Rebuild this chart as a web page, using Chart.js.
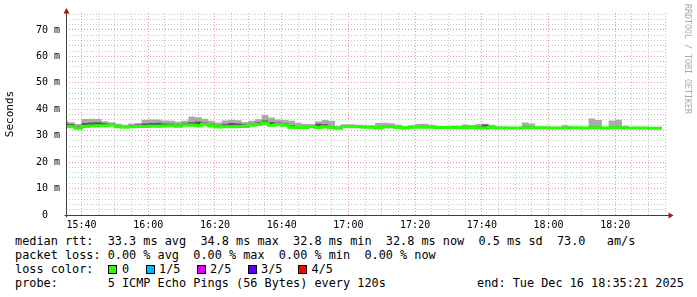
<!DOCTYPE html>
<html lang="en">
<head>
  <title>median rtt</title>
  <meta charset="utf-8">
  <script src="https://cdn.jsdelivr.net/npm/chart.js@4.4.1/dist/chart.umd.min.js"></script>
  <style>
    body {
      margin: 0;
      background-color: #fff;
      font-family: "DejaVu Sans Mono", monospace;
    }
    #wrap { position: relative; width: 697px; height: 297px; overflow: hidden; }
    #myChart { position: absolute; left: 0; top: 0; }
    .txt { position: absolute; font-size: 11.85px; line-height: 14px; color: #000; white-space: pre; }
    .box { position: absolute; width: 7px; height: 7px; border: 1px solid #000; }
    .mark {
      position: absolute; left: 682px; top: 4px;
      writing-mode: vertical-rl; font-size: 8.3px; line-height: 12px;
      color: #aaa; white-space: pre;
    }
  </style>
</head>
<body>
  <div id="wrap">
    <canvas id="myChart" width="697" height="232"></canvas>
    <div class="mark">RRDTOOL / TOBI OETIKER</div>

    <div class="txt" style="left:15px; top:234px;">median rtt:  33.3 ms avg  34.8 ms max  32.8 ms min  32.8 ms now  0.5 ms sd  73.0   am/s</div>
    <div class="txt" style="left:15px; top:248px;">packet loss: 0.00 % avg  0.00 % max  0.00 % min  0.00 % now</div>
    <div class="txt" style="left:15px; top:262px;">loss color:</div>
    <div id="lossRow"></div>
    <div class="txt" style="left:15px; top:276px;">probe:       5 ICMP Echo Pings (56 Bytes) every 120s</div>
    <div class="txt" style="left:477px; top:276px;">end: Tue Dec 16 18:35:21 2025</div>
  </div>

  <script>
    // 2 minute steps, first one starts 15:34
    const stepStart = 15 * 60 + 34;
    const stepMinutes = 2;
    const viewStart = 15 * 60 + 35 + 21 / 60;
    const viewEnd = 18 * 60 + 35 + 21 / 60;

    // ms values per step
    const median = [
      33.5, 33.5, 33.4, 32.8, 33.5, 33.7, 33.8, 33.8, 34.1, 33.4,
      33.2, 33.4, 33.5, 33.5, 33.6, 33.6, 33.7, 33.8, 33.6, 34.0,
      34.0, 33.8, 34.3, 33.8, 33.3, 33.5, 33.4, 33.5, 33.5, 33.9,
      34.2, 34.8, 33.9, 34.2, 33.9, 33.2, 33.1, 33.1, 33.5, 33.1,
      33.4, 33.0, 32.8, 33.5, 33.4, 33.5, 33.2, 33.2, 32.9, 33.3,
      33.4, 33.1, 32.9, 33.2, 33.2, 33.2, 33.2, 33.1, 33.1, 33.2,
      33.1, 33.0, 33.1, 32.9, 32.9, 33.1, 32.9, 32.9, 32.9, 32.9,
      33.0, 33.0, 33.0, 33.0, 32.9, 32.9, 32.9, 33.0, 33.0, 32.9,
      33.0, 33.0, 32.9, 33.0, 33.0, 32.9, 32.9, 32.9, 32.9, 32.8
    ];
    const pingHigh = [
      34.7, 34.6, 34.3, 33.6, 34.8, 35.0, 35.1, 34.7, 34.5, 33.9,
      33.7, 34.0, 34.2, 34.6, 34.8, 34.9, 34.6, 34.5, 34.2, 34.7,
      35.1, 35.4, 35.0, 34.5, 33.9, 34.4, 34.8, 34.6, 34.2, 34.5,
      35.1, 35.7, 35.2, 35.0, 34.6, 33.9, 33.6, 33.5, 33.9, 34.5,
      34.3, 33.6, 33.1, 33.9, 33.8, 33.8, 33.6, 33.5, 33.4, 33.8,
      33.8, 33.5, 33.2, 33.5, 33.6, 33.7, 33.5, 33.3, 33.3, 33.4,
      33.3, 33.5, 33.4, 33.6, 34.2, 33.7, 33.1, 33.1, 33.1, 33.1,
      33.5, 33.4, 33.1, 33.1, 33.1, 33.0, 33.3, 33.1, 33.1, 33.1,
      33.6, 33.4, 33.1, 33.4, 33.5, 33.2, 33.1, 33.1, 33.0, 32.9
    ];
    const pingMax = [
      35.7, 35.6, 35.1, 34.4, 36.3, 36.4, 36.3, 35.5, 35.1, 34.5,
      34.1, 34.6, 34.8, 36.0, 36.1, 36.1, 35.7, 35.6, 35.3, 35.6,
      37.3, 37.0, 36.3, 35.6, 35.0, 35.7, 36.0, 35.8, 35.2, 35.6,
      36.2, 37.8, 36.9, 36.1, 35.9, 35.6, 34.9, 34.4, 34.3, 35.4,
      35.9, 35.6, 33.7, 34.3, 34.3, 34.1, 33.9, 33.9, 34.8, 34.9,
      34.7, 34.1, 33.7, 33.9, 34.4, 34.5, 34.1, 33.8, 33.7, 33.7,
      33.8, 34.2, 34.0, 34.4, 34.5, 34.1, 33.5, 33.4, 33.3, 33.3,
      35.0, 34.6, 33.4, 33.3, 33.3, 33.2, 33.9, 33.4, 33.3, 33.3,
      36.5, 35.9, 33.3, 35.7, 36.0, 33.8, 33.3, 33.3, 33.2, 33.1
    ];
    const pingMin = [
      33.1, 33.2, 33.0, 32.5, 33.1, 33.3, 33.4, 33.4, 33.6, 33.0,
      32.9, 33.0, 33.1, 33.1, 33.2, 33.2, 33.3, 33.4, 33.2, 33.5,
      33.5, 33.4, 33.8, 33.4, 33.0, 33.1, 33.0, 33.1, 33.1, 33.5,
      33.8, 34.2, 33.5, 33.8, 33.5, 32.9, 32.8, 32.8, 33.1, 32.8,
      33.0, 32.7, 32.5, 33.1, 33.0, 33.1, 32.9, 32.9, 32.6, 33.0,
      33.0, 32.8, 32.6, 32.9, 32.9, 32.9, 32.9, 32.8, 32.8, 32.9,
      32.8, 32.7, 32.8, 32.6, 32.6, 32.8, 32.6, 32.6, 32.6, 32.6,
      32.7, 32.7, 32.7, 32.7, 32.6, 32.6, 32.6, 32.7, 32.7, 32.6,
      32.7, 32.7, 32.6, 32.7, 32.7, 32.6, 32.6, 32.6, 32.6, 32.5
    ];

    const lossLabels = ['0', '1/5', '2/5', '3/5', '4/5'];
    const lossColors = ['#26ff00', '#00b8ff', '#dd00ff', '#5500ff', '#ff0000'];
    const lossBoxX = [108, 145.5, 196.5, 247.5, 298];
    const lossTextX = [122, 159, 210, 261, 311.5];

    // loss colour row
    var row = '';
    for (var i = 0; i < lossLabels.length; i++) {
      row = row + '<div class="box" style="left:' + lossBoxX[i] + 'px; top:265px; background:' + lossColors[i] + ';"></div>';
      row = row + '<div class="txt" style="left:' + lossTextX[i] + 'px; top:262px;">' + lossLabels[i] + '</div>';
    }
    document.getElementById('lossRow').innerHTML = row;

    // step edges: one more than values, last repeats the last value
    const stepTimes = [];
    for (var k = 0; k <= median.length; k++) stepTimes.push(stepStart + k * stepMinutes);
    function toPoints(arr) {
      return stepTimes.map((t, k) => ({ x: t, y: arr[Math.min(k, arr.length - 1)] }));
    }

    function hhmm(m) {
      const h = Math.floor(m / 60), mm = m % 60;
      return h + ':' + (mm < 10 ? '0' : '') + mm;
    }

    const majorGrid = 'rgba(215,70,70,0.55)';
    const minorGrid = 'rgba(140,140,140,0.5)';

    const axisArrows = {
      id: 'axisArrows',
      afterDraw(chart) {
        const ctx = chart.ctx, a = chart.chartArea;
        const x0 = Math.round(a.left) + 0.5, y0 = Math.round(a.bottom) + 0.5;
        ctx.save();
        ctx.strokeStyle = '#404040';
        ctx.lineWidth = 1;
        ctx.beginPath();
        ctx.moveTo(x0, y0 + 2); ctx.lineTo(x0, a.top - 2);
        ctx.moveTo(x0 - 2, y0); ctx.lineTo(a.right + 3, y0);
        ctx.stroke();
        ctx.fillStyle = '#a01818';
        ctx.beginPath();
        ctx.moveTo(x0, a.top - 5); ctx.lineTo(x0 - 3, a.top + 0.5); ctx.lineTo(x0 + 3, a.top + 0.5);
        ctx.closePath(); ctx.fill();
        ctx.beginPath();
        ctx.moveTo(a.right + 7, y0); ctx.lineTo(a.right + 2, y0 - 3); ctx.lineTo(a.right + 2, y0 + 3);
        ctx.closePath(); ctx.fill();
        ctx.restore();
      }
    };

    Chart.defaults.font.family = "'DejaVu Sans Mono', monospace";
    Chart.defaults.color = '#000';

    new Chart('myChart', {
      type: 'line',
      data: {
        datasets: [
          { label: 'median', data: toPoints(median), borderColor: '#26ff00', borderWidth: 3,
            stepped: 'after', pointRadius: 0, fill: false, clip: 0 },
          { label: 'high', data: toPoints(pingHigh), borderWidth: 0, borderColor: 'transparent',
            backgroundColor: '#5a5a5a', stepped: 'after', pointRadius: 0, fill: '-1', clip: 0 },
          { label: 'max', data: toPoints(pingMax), borderWidth: 0, borderColor: 'transparent',
            backgroundColor: '#aaaaaa', stepped: 'after', pointRadius: 0, fill: '+1', clip: 0 },
          { label: 'min', data: toPoints(pingMin), borderWidth: 0, borderColor: 'transparent',
            stepped: 'after', pointRadius: 0, fill: false, clip: 0 }
        ]
      },
      options: {
        responsive: false,
        animation: false,
        layout: { padding: { left: 0, right: 30.5, top: 13, bottom: 0 } },
        plugins: { legend: { display: false }, tooltip: { enabled: false } },
        scales: {
          x: {
            type: 'linear',
            min: viewStart,
            max: viewEnd,
            afterBuildTicks: s => {
              const t = [];
              for (var v = 940; v <= viewEnd; v += 5) t.push({ value: v });
              s.ticks = t;
            },
            afterFit: s => { s.height = 17; },
            ticks: {
              autoSkip: false, maxRotation: 0, padding: 4,
              font: { size: 10 },
              callback: v => (v % 20 === 0 ? hhmm(v) : '')
            },
            grid: {
              drawTicks: false,
              color: c => (c.tick && c.tick.value % 20 === 0 ? majorGrid : minorGrid)
            },
            border: { display: false, dash: [1, 2] }
          },
          y: {
            min: 0,
            max: 76.4,
            afterBuildTicks: s => {
              const t = [];
              for (var v = 0; v <= 76; v += 2) t.push({ value: v });
              s.ticks = t;
            },
            afterFit: s => { s.width = 66; },
            title: { display: true, text: 'Seconds', font: { size: 11 }, padding: { top: 4, bottom: 0 } },
            ticks: {
              autoSkip: false, padding: 6,
              font: { size: 10 },
              callback: v => (v % 10 !== 0 ? '' : (v === 0 ? '0  ' : v + ' m'))
            },
            grid: {
              drawTicks: false,
              color: c => (c.tick && c.tick.value % 10 === 0 ? majorGrid : minorGrid)
            },
            border: { display: false, dash: [1, 2] }
          }
        }
      },
      plugins: [axisArrows]
    });
  </script>
</body>
</html>
